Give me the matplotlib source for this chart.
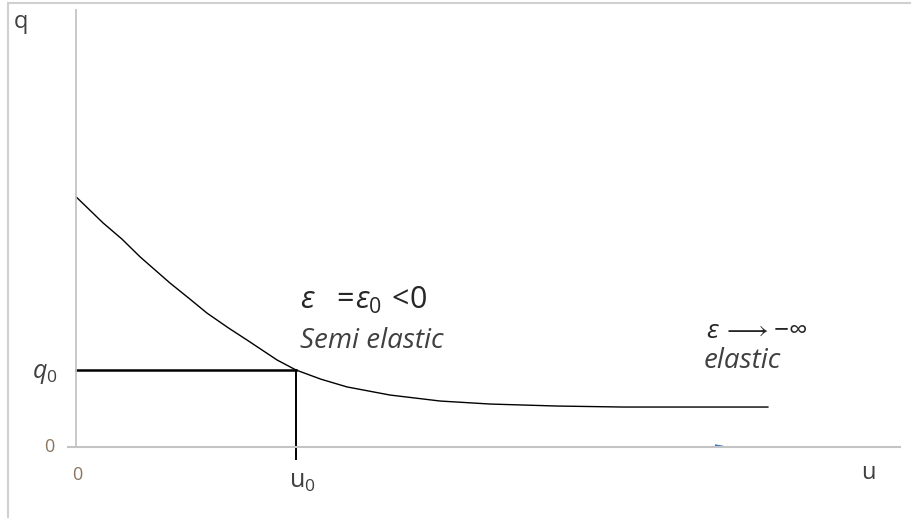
import matplotlib
matplotlib.use("Agg")
import matplotlib.pyplot as plt
from matplotlib.lines import Line2D

plt.rcParams['font.family'] = ['Open Sans', 'DejaVu Sans']
plt.rcParams['mathtext.fontset'] = 'custom'
plt.rcParams['mathtext.rm'] = 'Open Sans'
plt.rcParams['mathtext.it'] = 'Open Sans:italic'
plt.rcParams['mathtext.fallback'] = 'stixsans'

# demand curve q(u), arbitrary units (u0 = 1, q0 = 1)
u_vals = [0.0, 0.123, 0.209, 0.291, 0.427, 0.514, 0.595, 0.691, 0.777, 0.914,
          1.0, 1.114, 1.232, 1.427, 1.655, 1.882, 2.186, 2.486, 3.145]
q_vals = [3.25, 2.91, 2.70, 2.47, 2.13, 1.93, 1.74, 1.55, 1.39, 1.13,
          1.0, 0.88, 0.78, 0.675, 0.597, 0.558, 0.532, 0.519, 0.519]
u0 = 1.0
q0 = 1.0

TXT = '#404040'
AX = '#c4c4c4'
PX = 220.0   # pixels per u unit
PY = 77.0    # pixels per q unit

fig = plt.figure(figsize=(9.11, 5.18), dpi=100)
ax = fig.add_axes([68/911, 1-447/518, (900-68)/911, (447-10)/518])
ax.set_xlim(-8/PX, (900-76)/PX)
ax.set_ylim(0, (447-10)/PY)

for s in ['top', 'right']:
    ax.spines[s].set_visible(False)
ax.spines['left'].set_position(('data', 0))
ax.spines['left'].set_color(AX)
ax.spines['bottom'].set_color(AX)
ax.spines['left'].set_linewidth(1.3)
ax.spines['bottom'].set_linewidth(1.5)
ax.set_xticks([])
ax.set_yticks([])

ax.plot(u_vals, q_vals, color='black', lw=1.0)
ax.plot([0, u0], [q0, q0], color='black', lw=1.8)
ax.plot([u0, u0], [-12/PY, q0], color='black', lw=1.4, clip_on=False)

# axis labels
fig.text(14/911, 1-22/518, 'q', fontsize=17, color=TXT, ha='left', va='center')
fig.text(868/911, 1-473/518, 'u', fontsize=17, color=TXT, ha='center', va='center')
ax.text(-27/PX, 0, '0', fontsize=13, color='#8a7560', ha='center', va='center')
ax.text(1/PX, -28/PY, '0', fontsize=13, color='#8a7560', ha='center', va='center')
ax.text(-31/PX, q0 - 3/PY, r'$q_{0}$', fontsize=18, color=TXT, ha='center', va='center')
ax.text(u0 + 6/PX, -35/PY, r'$\mathrm{u}_{0}$', fontsize=18, color=TXT, ha='center', va='center')

# annotations
ax.text((300-76)/PX, (447-300)/PY, r'$\varepsilon\ \ =\!\varepsilon_{0}\,<\!0$', fontsize=22,
        color='#262626', ha='left', va='center')
ax.text((300-76)/PX, (447-341)/PY, 'Semi elastic', fontsize=20, style='italic',
        color=TXT, ha='left', va='center')
ax.text((706-76)/PX, (447-331)/PY, r'$\varepsilon\,\longrightarrow\!-\!\infty$', fontsize=19,
        color='#262626', ha='left', va='center')
ax.text((704-76)/PX, (447-361)/PY, 'elastic', fontsize=20, style='italic',
        color=TXT, ha='left', va='center')

# small stray blue mark on the axis
ax.plot([(716-76)/PX, (722-76)/PX], [1.5/PY, 0.5/PY], color='#4472c4', lw=1.5)

# outer frame edges
fig.add_artist(Line2D([8/911, 8/911], [0, 1-3/518], color='#d0d0d0', lw=1.5))
fig.add_artist(Line2D([8/911, 1], [1-3/518, 1-3/518], color='#d0d0d0', lw=1.5))

fig.savefig('out.png', dpi=100)
